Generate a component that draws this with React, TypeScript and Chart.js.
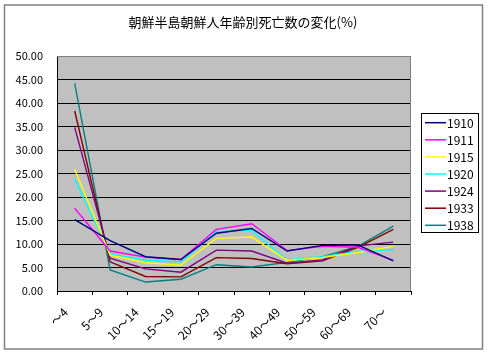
import { useEffect, useRef } from "react";
import { Chart, registerables } from "chart.js";
Chart.register(...registerables);

const FONT = "'Noto Sans CJK JP', 'Noto Sans', sans-serif";

const titleText = "朝鮮半島朝鮮人年齢別死亡数の変化(%)";
const categories = ["～4", "5～9", "10～14", "15～19", "20～29", "30～39", "40～49", "50～59", "60～69", "70～"];
const years = ["1910", "1911", "1915", "1920", "1924", "1933", "1938"];
const colors = ["#000080", "#FF00FF", "#FFFF00", "#00FFFF", "#800080", "#800000", "#008080"];

const s1910 = [15.2, 10.7, 7.3, 6.7, 12.3, 13.3, 8.5, 9.7, 9.8, 6.4];
const s1911 = [17.6, 8.5, 7.2, 6.7, 13.1, 14.3, 8.6, 9.5, 9.3, 6.5];
const s1915 = [25.9, 7.6, 6.0, 5.5, 11.2, 11.5, 6.5, 7.1, 8.2, 9.5];
const s1920 = [23.8, 7.9, 6.6, 6.2, 12.6, 12.9, 6.6, 7.3, 8.4, 8.8];
const s1924 = [34.8, 7.0, 4.7, 4.0, 8.7, 8.5, 5.9, 6.6, 9.6, 10.4];
const s1933 = [38.3, 6.2, 3.1, 3.0, 7.1, 6.9, 5.8, 6.4, 9.3, 13.1];
const s1938 = [44.2, 4.5, 1.9, 2.5, 5.6, 5.1, 6.1, 7.3, 9.5, 13.8];
const seriesValues = [s1910, s1911, s1915, s1920, s1924, s1933, s1938];

const yMin = 0;
const yMax = 50;
const yStep = 5;

const framePlugin = {
  id: "frame",
  beforeDraw(chart: any) {
    const { ctx, chartArea: a, width, height } = chart;
    ctx.save();
    ctx.fillStyle = "#ffffff";
    ctx.fillRect(0, 0, width, height);
    ctx.strokeStyle = "#808080";
    ctx.lineWidth = 1.5;
    ctx.strokeRect(4.5, 5, 478, 344);
    ctx.fillStyle = "#C0C0C0";
    ctx.fillRect(a.left, a.top, a.right - a.left, a.bottom - a.top);
    ctx.fillStyle = "#000000";
    ctx.font = `13px ${FONT}`;
    ctx.textAlign = "center";
    ctx.textBaseline = "middle";
    ctx.fillText(titleText, 243, 22);
    ctx.restore();
  },
  beforeDatasetsDraw(chart: any) {
    const { ctx, chartArea: a } = chart;
    ctx.save();
    ctx.strokeStyle = "#808080";
    ctx.lineWidth = 1;
    ctx.beginPath();
    ctx.moveTo(a.left, a.top + 0.5);
    ctx.lineTo(a.right - 0.5, a.top + 0.5);
    ctx.lineTo(a.right - 0.5, a.bottom);
    ctx.stroke();
    ctx.restore();
  },
  afterDraw(chart: any) {
    const { ctx } = chart;
    const x0 = 421, y0 = 113, w = 57, h = 119;
    ctx.save();
    ctx.strokeStyle = "#000000";
    ctx.lineWidth = 1;
    ctx.strokeRect(x0 + 0.5, y0 + 0.5, w, h);
    ctx.font = `12px ${FONT}`;
    ctx.textBaseline = "middle";
    ctx.textAlign = "left";
    chart.data.datasets.forEach((ds: any, i: number) => {
      const y = 122.7 + i * 17.1;
      ctx.strokeStyle = ds.borderColor;
      ctx.lineWidth = 1.5;
      ctx.beginPath();
      ctx.moveTo(425, y);
      ctx.lineTo(446, y);
      ctx.stroke();
      ctx.fillStyle = "#000000";
      ctx.fillText(ds.label, 447, y + 0.5);
    });
    ctx.restore();
  },
};

export default function App() {
  const ref = useRef<HTMLCanvasElement | null>(null);
  useEffect(() => {
    if (!ref.current) return;
    const chart = new Chart(ref.current, {
      type: "line",
      data: {
        labels: categories,
        datasets: years.map((y, i) => ({
          label: y,
          data: seriesValues[i],
          borderColor: colors[i],
          backgroundColor: colors[i],
          borderWidth: 1.4,
          pointRadius: 0,
          tension: 0,
          fill: false,
        })),
      },
      options: {
        responsive: false,
        animation: false,
        devicePixelRatio: 1,
        layout: { padding: { left: 0, right: 77, top: 56, bottom: 0 } },
        plugins: {
          legend: { display: false },
          tooltip: { enabled: false },
          title: { display: false },
        },
        scales: {
          x: {
            type: "category",
            offset: true,
            grid: {
              offset: true,
              drawOnChartArea: false,
              drawTicks: true,
              tickLength: 4,
              color: "#000000",
            },
            border: { display: true, color: "#000000", width: 1 },
            ticks: {
              autoSkip: false,
              minRotation: 45,
              maxRotation: 45,
              color: "#000000",
              font: { family: FONT, size: 12 },
              padding: 10,
              labelOffset: -9,
            },
            afterFit(scale: any) {
              scale.height = 63;
            },
          },
          y: {
            min: yMin,
            max: yMax,
            grid: {
              drawTicks: false,
              color: (c: any) => (c.tick && c.tick.value === yMax ? "#808080" : "#000000"),
              lineWidth: 1,
            },
            border: { display: true, color: "#000000", width: 1 },
            ticks: {
              stepSize: yStep,
              color: "#000000",
              font: { family: FONT, size: 11 },
              padding: 14,
              callback: (v: any) => Number(v).toFixed(2),
            },
            afterFit(scale: any) {
              scale.width = 57;
            },
          },
        },
      },
      plugins: [framePlugin],
    });
    return () => chart.destroy();
  }, []);
  return (
    <div style={{ position: "absolute", left: 0, top: 0, width: 488, height: 354 }}>
      <canvas ref={ref} width={488} height={354} style={{ display: "block" }} />
    </div>
  );
}
